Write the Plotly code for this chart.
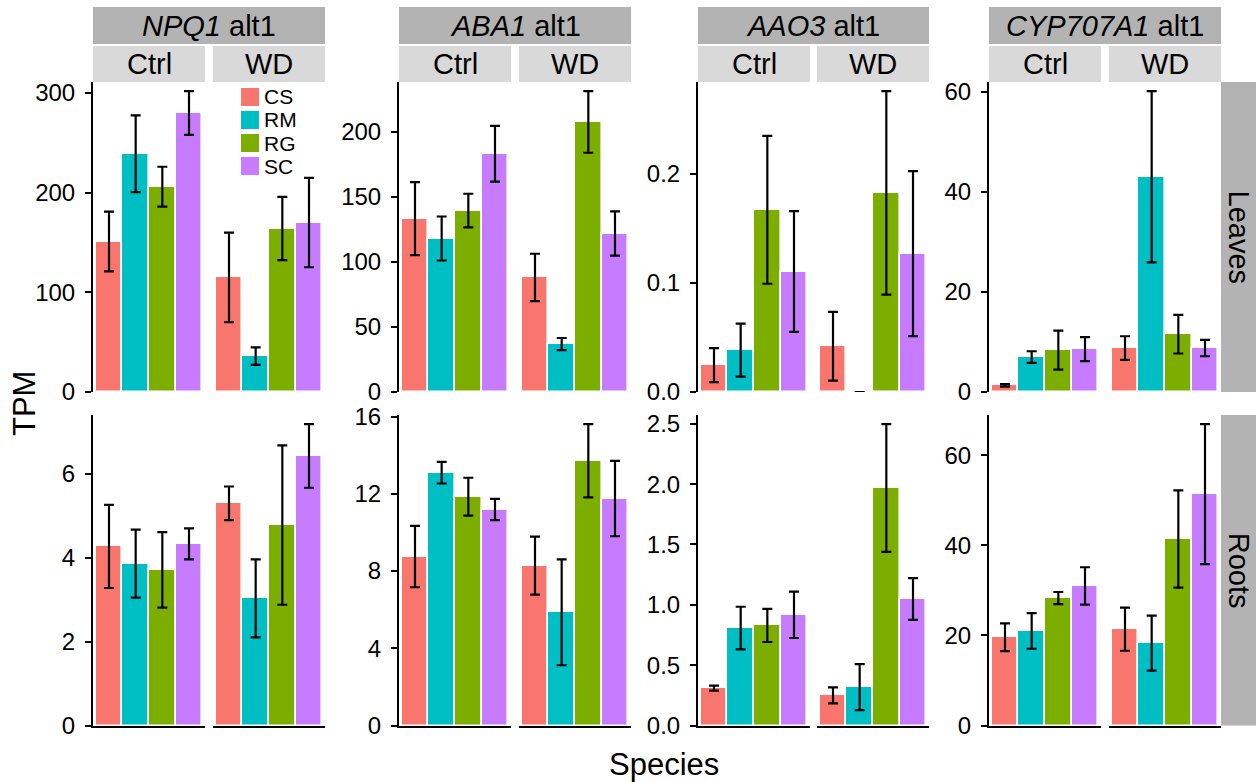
import plotly.graph_objects as go

W, H = 1256, 782
FONT = "Liberation Sans, Arial, Helvetica, sans-serif"

genes = ["NPQ1", "ABA1", "AAO3", "CYP707A1"]
conditions = ["Ctrl", "WD"]
tissues = ["Leaves", "Roots"]
species = ["CS", "RM", "RG", "SC"]
species_colors = ["#F8766D", "#00BFC4", "#7CAE00", "#C77CFF"]

# Each list: Ctrl (CS, RM, RG, SC) followed by WD (CS, RM, RG, SC)
npq1_leaves_mean = [151, 239, 206, 280, 115, 36, 164, 170]
npq1_leaves_se = [30, 38.5, 20, 22, 45, 8.7, 31.7, 44.8]
aba1_leaves_mean = [133.2, 117.9, 139.4, 183, 88, 36.8, 207.5, 121.7]
aba1_leaves_se = [28, 16.9, 12.9, 21.4, 18.2, 4.7, 23.7, 17]
aao3_leaves_mean = [0.0246, 0.0383, 0.1668, 0.1103, 0.0419, 0.0, 0.1823, 0.1267]
aao3_leaves_se = [0.0155, 0.0242, 0.0677, 0.0552, 0.0315, 0.0, 0.0932, 0.0755]
cyp707a1_leaves_mean = [1.33, 6.97, 8.37, 8.57, 8.77, 43.0, 11.55, 8.77]
cyp707a1_leaves_se = [0.24, 1.17, 3.9, 2.4, 2.36, 17.1, 3.86, 1.63]

npq1_roots_mean = [4.27, 3.86, 3.71, 4.33, 5.30, 3.03, 4.78, 6.43]
npq1_roots_se = [0.99, 0.81, 0.90, 0.37, 0.40, 0.93, 1.90, 0.76]
aba1_roots_mean = [8.75, 13.09, 11.85, 11.18, 8.28, 5.86, 13.71, 11.75]
aba1_roots_se = [1.59, 0.56, 0.98, 0.55, 1.50, 2.74, 1.90, 1.95]
aao3_roots_mean = [0.31, 0.807, 0.829, 0.917, 0.25, 0.318, 1.968, 1.049]
aao3_roots_se = [0.021, 0.177, 0.137, 0.192, 0.066, 0.19, 0.53, 0.173]
cyp707a1_roots_mean = [19.6, 21.0, 28.3, 31.0, 21.4, 18.3, 41.4, 51.4]
cyp707a1_roots_se = [3.1, 3.95, 1.35, 4.15, 4.8, 6.1, 10.8, 15.55]

# y tick spacing per panel row/gene
leaves_dtick = [100, 50, 0.1, 20]
roots_dtick = [2, 4, 0.5, 20]

data = {
    ("Leaves", "NPQ1"): (npq1_leaves_mean, npq1_leaves_se),
    ("Leaves", "ABA1"): (aba1_leaves_mean, aba1_leaves_se),
    ("Leaves", "AAO3"): (aao3_leaves_mean, aao3_leaves_se),
    ("Leaves", "CYP707A1"): (cyp707a1_leaves_mean, cyp707a1_leaves_se),
    ("Roots", "NPQ1"): (npq1_roots_mean, npq1_roots_se),
    ("Roots", "ABA1"): (aba1_roots_mean, aba1_roots_se),
    ("Roots", "AAO3"): (aao3_roots_mean, aao3_roots_se),
    ("Roots", "CYP707A1"): (cyp707a1_roots_mean, cyp707a1_roots_se),
}
dticks = {"Leaves": leaves_dtick, "Roots": roots_dtick}

# Layout geometry in pixels
col_px = [[(93, 205), (213, 325)], [(399, 511), (519, 631)],
          [(698, 810), (817, 929)], [(989, 1101), (1109, 1221)]]
row_px = [(82, 392), (415, 725.5)]
gene_strip_y = (7, 44)
cond_strip_y = (46, 82)
row_strip_x = (1221, 1256)


def px(x):
    return x / W


def py(y):
    return 1 - y / H


fig = go.Figure()
layout = {}
positions = [1, 2, 3, 4]

for r, tissue in enumerate(tissues):
    y0, y1 = row_px[r]
    for g, gene in enumerate(genes):
        mean, se = data[(tissue, gene)]
        yidx = r * 4 + g + 1
        ymax = max(m + s for m, s in zip(mean, se)) * 1.03
        yname = "yaxis" if yidx == 1 else f"yaxis{yidx}"
        first_x = r * 8 + g * 2 + 1
        decimals = dticks[tissue][g] < 1
        layout[yname] = dict(
            domain=[py(y1), py(y0)], range=[0, ymax], anchor=f"x{first_x}" if first_x > 1 else "x",
            showline=True, linecolor="black", linewidth=2, ticks="outside", ticklen=6,
            tickwidth=2, tickcolor="black", showgrid=False, zeroline=False,
            tick0=0, dtick=dticks[tissue][g], tickformat=".1f" if decimals else "d",
            tickfont=dict(family=FONT, size=24, color="black"), ticklabelstandoff=5,
            fixedrange=True,
        )
        for c, cond in enumerate(conditions):
            xidx = r * 8 + g * 2 + c + 1
            xname = "xaxis" if xidx == 1 else f"xaxis{xidx}"
            xa, xb = col_px[g][c]
            layout[xname] = dict(
                domain=[px(xa), px(xb)], range=[0.4, 4.6], anchor=f"y{yidx}" if yidx > 1 else "y",
                showline=(r == 1), linecolor="black", linewidth=2, showticklabels=False,
                ticks="", showgrid=False, zeroline=False, fixedrange=True,
            )
            vals = mean[c * 4:(c + 1) * 4]
            errs = se[c * 4:(c + 1) * 4]
            fig.add_trace(go.Bar(
                x=positions, y=vals, width=1,
                marker=dict(color=species_colors, line=dict(color="white", width=1.6)),
                error_y=dict(type="data", array=errs, visible=True, color="black",
                             thickness=2.2, width=5),
                xaxis=f"x{xidx}" if xidx > 1 else "x",
                yaxis=f"y{yidx}" if yidx > 1 else "y",
                showlegend=False, hoverinfo="skip",
            ))

shapes = []
annotations = []
# strips
for g, gene in enumerate(genes):
    xa = col_px[g][0][0]
    xb = col_px[g][1][1]
    shapes.append(dict(type="rect", xref="paper", yref="paper", x0=px(xa), x1=px(xb),
                       y0=py(gene_strip_y[1]), y1=py(gene_strip_y[0]),
                       fillcolor="#B3B3B3", line=dict(width=0), layer="below"))
    annotations.append(dict(xref="paper", yref="paper", x=px((xa + xb) / 2),
                            y=py(sum(gene_strip_y) / 2), text=f"<i>{gene}</i> alt1",
                            showarrow=False, xanchor="center", yanchor="middle",
                            font=dict(family=FONT, size=29, color="black")))
    for c, cond in enumerate(conditions):
        ca, cb = col_px[g][c]
        shapes.append(dict(type="rect", xref="paper", yref="paper", x0=px(ca), x1=px(cb),
                           y0=py(cond_strip_y[1]), y1=py(cond_strip_y[0]),
                           fillcolor="#D9D9D9", line=dict(width=0), layer="below"))
        annotations.append(dict(xref="paper", yref="paper", x=px((ca + cb) / 2),
                                y=py(sum(cond_strip_y) / 2), text=cond,
                                showarrow=False, xanchor="center", yanchor="middle",
                                font=dict(family=FONT, size=29, color="black")))
for r, tissue in enumerate(tissues):
    y0, y1 = row_px[r]
    shapes.append(dict(type="rect", xref="paper", yref="paper", x0=px(row_strip_x[0]),
                       x1=px(row_strip_x[1]), y0=py(y1), y1=py(y0),
                       fillcolor="#B3B3B3", line=dict(width=0), layer="below"))
    annotations.append(dict(xref="paper", yref="paper", x=px(sum(row_strip_x) / 2),
                            y=py((y0 + y1) / 2), text=tissue, textangle=90,
                            showarrow=False, xanchor="center", yanchor="middle",
                            font=dict(family=FONT, size=29, color="black")))

# axis titles
annotations.append(dict(xref="paper", yref="paper", x=px(664), y=py(764), text="Species",
                        showarrow=False, xanchor="center", yanchor="middle",
                        font=dict(family=FONT, size=31, color="black")))
annotations.append(dict(xref="paper", yref="paper", x=px(24), y=py(404), text="TPM",
                        textangle=-90, showarrow=False, xanchor="center", yanchor="middle",
                        font=dict(family=FONT, size=31, color="black")))

# legend (inside NPQ1 Leaves WD panel)
key_x = (241, 259)
key_top = 88
key_step = 23
key_size = 18
for i, (sp, col) in enumerate(zip(species, species_colors)):
    t = key_top + i * key_step
    shapes.append(dict(type="rect", xref="paper", yref="paper", x0=px(key_x[0]), x1=px(key_x[1]),
                       y0=py(t + key_size), y1=py(t), fillcolor=col, line=dict(width=0),
                       layer="above"))
    annotations.append(dict(xref="paper", yref="paper", x=px(262), y=py(t + key_size / 2),
                            text=sp, showarrow=False, xanchor="left", yanchor="middle",
                            font=dict(family=FONT, size=21, color="black")))

fig.update_layout(
    width=W, height=H, margin=dict(l=0, r=0, t=0, b=0),
    paper_bgcolor="white", plot_bgcolor="white", template="none",
    bargap=0, showlegend=False, shapes=shapes, annotations=annotations,
    font=dict(family=FONT, color="black"),
    **layout,
)

fig.write_html(
    "out.html",
    config={"displayModeBar": False},
    post_script="document.body.style.margin='0';document.body.style.overflow='hidden';",
)
